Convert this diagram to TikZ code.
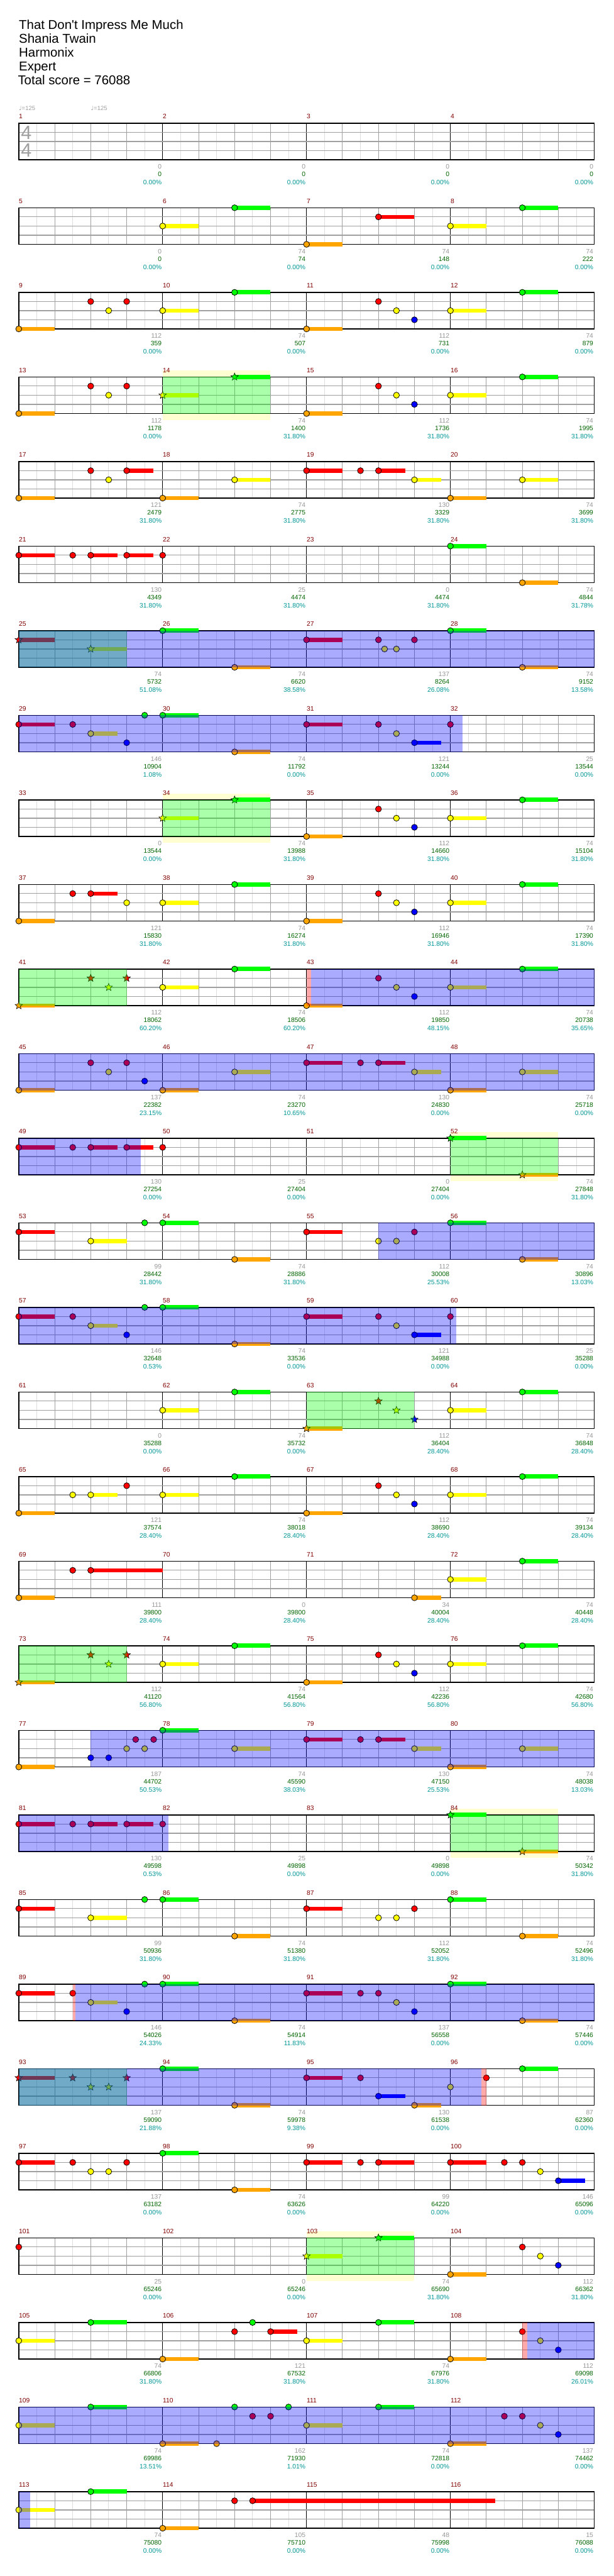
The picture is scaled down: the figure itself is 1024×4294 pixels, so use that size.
\documentclass[tikz,border=0pt]{standalone}
\usepackage{fontspec}
\setmainfont{Liberation Sans}
\newfontfamily\symfont{DejaVu Sans}
\usetikzlibrary{shapes.geometric}

\definecolor{mred}{RGB}{128,0,0}
\definecolor{sgray}{RGB}{150,150,150}
\definecolor{sgreen}{RGB}{0,100,0}
\definecolor{steal}{RGB}{0,150,150}
\definecolor{ngreen}{RGB}{0,255,0}
\definecolor{nred}{RGB}{255,0,0}
\definecolor{nyellow}{RGB}{255,255,0}
\definecolor{nblue}{RGB}{0,0,255}
\definecolor{norange}{RGB}{255,165,0}
\definecolor{gridmid}{RGB}{160,160,160}
\definecolor{gridlight}{RGB}{222,222,222}
\definecolor{ybg}{RGB}{255,255,210}

% measure, beat -> \chx, \rowtop
\newcommand{\chpos}[2]{%
  \pgfmathtruncatemacro\chrow{(#1-1)/4}%
  \pgfmathtruncatemacro\chcol{#1-1-4*\chrow}%
  \pgfmathsetmacro\chx{31.3+240*\chcol+60*#2}%
  \pgfmathsetmacro\rowtop{205.3+141*\chrow}}
\newcommand{\chcolor}[1]{\ifcase#1\relax\def\nc{ngreen}\or\def\nc{nred}\or\def\nc{nyellow}\or\def\nc{nblue}\or\def\nc{norange}\fi}
% measure, beat, lane, sustain
\newcommand{\chnote}[4]{%
  \chpos{#1}{#2}\chcolor{#3}%
  \pgfmathsetmacro\laney{\rowtop+15.25*#3}%
  \ifdim#4pt>0pt \fill[\nc] (\chx,\laney-3.5) rectangle ++({60*#4},7);\fi
  \draw[notehead, fill=\nc] (\chx,\laney) circle[radius=2.5pt];}
\newcommand{\chstar}[4]{%
  \chpos{#1}{#2}\chcolor{#3}%
  \pgfmathsetmacro\laney{\rowtop+15.25*#3}%
  \ifdim#4pt>0pt \fill[\nc] (\chx,\laney-3.5) rectangle ++({60*#4},7);\fi
  \node[starnote, fill=\nc] at (\chx,\laney) {};}
% measure, beat, length
\newcommand{\sprun}[3]{\chpos{#1}{#2}\fill[spfill] (\chx,\rowtop) rectangle ++({60*#3},61);}
\newcommand{\odrun}[3]{\chpos{#1}{#2}\fill[odfill] (\chx,\rowtop) rectangle ++({60*#3},61);}
\newcommand{\pkrun}[3]{\chpos{#1}{#2}\fill[pkfill] (\chx,\rowtop) rectangle ++({60*#3},61);}
\newcommand{\ybrun}[3]{\chpos{#1}{#2}\fill[ybg] (\chx,\rowtop-10.5) rectangle ++({60*#3},82);}

\begin{document}
\begin{tikzpicture}[
    x=0.5pt, y=-0.5pt,
    head/.style={font=\fontsize{10.7}{12}\selectfont, anchor=base west, inner sep=0},
    tempo/.style={font=\fontsize{5}{6}\selectfont, text=gridmid, anchor=base west, inner sep=0},
    timesig/.style={font=\fontsize{16}{18}\selectfont, text=gridmid, inner sep=0},
    mnum/.style={font=\fontsize{5.4}{6}\selectfont, text=mred, anchor=west, inner sep=0},
    ptgray/.style={font=\fontsize{5.4}{6}\selectfont, text=sgray, anchor=east, inner sep=0},
    ptgreen/.style={font=\fontsize{5.4}{6}\selectfont, text=sgreen, anchor=east, inner sep=0},
    ptteal/.style={font=\fontsize{5.4}{6}\selectfont, text=steal, anchor=east, inner sep=0},
    eighth/.style={draw=gridlight, line width=0.5pt},
    quarter/.style={draw=gridmid, line width=0.5pt},
    barline/.style={draw=black, line width=0.5pt},
    laneline/.style={draw=gridmid, line width=0.6pt},
    border/.style={draw=black, line width=0.7pt},
    notehead/.style={draw=black, line width=0.4pt},
    starnote/.style={star, star points=5, star point ratio=2.3, draw=black, line width=0.3pt,
                     inner sep=0, minimum size=6.5pt},
    spfill/.style={fill=green, fill opacity=0.333},
    odfill/.style={fill=blue, fill opacity=0.333},
    pkfill/.style={fill=red, fill opacity=0.333}
]
\fill[white] (0,0) rectangle (1024,4294);
\useasboundingbox (0,0) rectangle (1024,4294);

% header
\node[head] (song)   at (31.3,49)  {That Don\textquotesingle t Impress Me Much};
\node[head] (artist) at (31.3,72)  {Shania Twain};
\node[head] (author) at (31.3,95)  {Harmonix};
\node[head] (level)  at (31.3,118) {Expert};
\node[head] (total)  at (29.5,141.3) {Total score = 76088};
\node[tempo] (tempoA) at (31.3,184.5)  {{\symfont ♩}=125};
\node[tempo] (tempoB) at (151.3,184.5) {{\symfont ♩}=125};

% star phrase backgrounds
\ybrun{14}{0}{3} \ybrun{34}{0}{3} \ybrun{52}{0}{3} \ybrun{84}{0}{3} \ybrun{103}{0}{3}

% staffs
\foreach \r in {0,...,28}{
  \pgfmathsetmacro\rowtop{205.3+141*\r}
  \fill[white] (31.3,\rowtop) rectangle (991.3,\rowtop+61);
  \foreach \nb in {0.5,1.5,...,15.5} \draw[eighth] (31.3+60*\nb,\rowtop) -- ++(0,61);
  \foreach \nb in {1,2,3,5,6,7,9,10,11,13,14,15} \draw[quarter] (31.3+60*\nb,\rowtop) -- ++(0,61);
  \foreach \nb in {4,8,12} \draw[barline] (31.3+60*\nb,\rowtop) -- ++(0,61);
  \foreach \k in {1,2,3} \draw[laneline] (31.3,\rowtop+15.25*\k) -- (991.3,\rowtop+15.25*\k);
  \draw[border] (31.3,\rowtop) rectangle (991.3,\rowtop+61);
}
\node[timesig] (sigtop) at (43.8,220.7) {4};
\node[timesig] (sigbot) at (43.8,250.7) {4};

% notes: measure/beat/lane/sustain
\foreach \nm/\nb/\nl/\ns in {
  6/0/2/1, 6/2/0/1, 7/0/4/1, 7/2/1/1, 8/0/2/1, 8/2/0/1,
  9/0/4/1, 9/2/1/0, 9/2.5/2/0, 9/3/1/0, 10/0/2/1, 10/2/0/1,
  11/0/4/1, 11/2/1/0, 11/2.5/2/0, 11/3/3/0, 12/0/2/1, 12/2/0/1,
  13/0/4/1, 13/2/1/0, 13/2.5/2/0, 13/3/1/0,
  15/0/4/1, 15/2/1/0, 15/2.5/2/0, 15/3/3/0, 16/0/2/1, 16/2/0/1,
  17/0/4/1, 17/2/1/0, 17/2.5/2/0, 17/3/1/0.75, 18/0/4/1, 18/2/2/1,
  19/0/1/1, 19/1.5/1/0, 19/2/1/0.75, 19/3/2/0.75, 20/0/4/1, 20/2/2/1,
  21/0/1/1, 21/1.5/1/0, 21/2/1/0.75, 21/3/1/0.75, 22/0/1/0,
  24/0/0/1, 24/2/4/1,
  26/0/0/1, 26/2/4/1,
  27/0/1/1, 27/2/1/0, 27/2.17/2/0, 27/2.5/2/0, 27/3/1/0, 28/0/0/1, 28/2/4/1,
  29/0/1/1, 29/1.5/1/0, 29/2/2/0.75, 29/3/3/0, 29/3.5/0/0, 30/0/0/1, 30/2/4/1,
  31/0/1/1, 31/2/1/0, 31/2.5/2/0, 31/3/3/0.75, 32/0/1/0,
  35/0/4/1, 35/2/1/0, 35/2.5/2/0, 35/3/3/0, 36/0/2/1, 36/2/0/1,
  37/0/4/1, 37/1.5/1/0, 37/2/1/0.75, 37/3/2/0, 38/0/2/1, 38/2/0/1,
  39/0/4/1, 39/2/1/0, 39/2.5/2/0, 39/3/3/0, 40/0/2/1, 40/2/0/1,
  42/0/2/1, 42/2/0/1,
  43/0/4/1, 43/2/1/0, 43/2.5/2/0, 43/3/3/0, 44/0/2/1, 44/2/0/1,
  45/0/4/1, 45/2/1/0, 45/2.5/2/0, 45/3/1/0, 45/3.5/3/0, 46/0/4/1, 46/2/2/1,
  47/0/1/1, 47/1.5/1/0, 47/2/1/0.75, 47/3/2/0.75, 48/0/4/1, 48/2/2/1,
  49/0/1/1, 49/1.5/1/0, 49/2/1/0.75, 49/3/1/0.75, 50/0/1/0,
  53/0/1/1, 53/2/2/1, 53/3.5/0/0, 54/0/0/1, 54/2/4/1,
  55/0/1/1, 55/2/2/0, 55/2.5/2/0, 55/3/1/0, 56/0/0/1, 56/2/4/1,
  57/0/1/1, 57/1.5/1/0, 57/2/2/0.75, 57/3/3/0, 57/3.5/0/0, 58/0/0/1, 58/2/4/1,
  59/0/1/1, 59/2/1/0, 59/2.5/2/0, 59/3/3/0.75, 60/0/1/0,
  62/0/2/1, 62/2/0/1, 64/0/2/1, 64/2/0/1,
  65/0/4/1, 65/1.5/2/0, 65/2/2/0.75, 65/3/1/0, 66/0/2/1, 66/2/0/1,
  67/0/4/1, 67/2/1/0, 67/2.5/2/0, 67/3/3/0, 68/0/2/1, 68/2/0/1,
  69/0/4/1, 69/1.5/1/0, 69/2/1/2, 71/3/4/0.75, 72/0/2/1, 72/2/0/1,
  74/0/2/1, 74/2/0/1,
  75/0/4/1, 75/2/1/0, 75/2.5/2/0, 75/3/3/0, 76/0/2/1, 76/2/0/1,
  77/0/4/1, 77/2/3/0, 77/2.5/3/0, 77/3/2/0, 77/3.25/1/0, 77/3.5/2/0, 77/3.75/1/0,
  78/0/0/1, 78/2/2/1,
  79/0/1/1, 79/1.5/1/0, 79/2/1/0.75, 79/3/2/0.75, 80/0/4/1, 80/2/2/1,
  81/0/1/1, 81/1.5/1/0, 81/2/1/0.75, 81/3/1/0.75, 82/0/1/0,
  85/0/1/1, 85/2/2/1, 85/3.5/0/0, 86/0/0/1, 86/2/4/1,
  87/0/1/1, 87/2/2/0, 87/2.5/2/0, 87/3/1/0, 88/0/0/1, 88/2/4/1,
  89/0/1/1, 89/1.5/1/0, 89/2/2/0.75, 89/3/3/0, 89/3.5/0/0, 90/0/0/1, 90/2/4/1,
  91/0/1/1, 91/1.5/1/0, 91/2/1/0, 91/2.5/2/0, 91/3/3/0, 92/0/0/1, 92/2/4/1,
  94/0/0/1, 94/2/4/1,
  95/0/1/1, 95/1.5/1/0, 95/2/3/0.75, 95/3/4/0.75, 96/0/2/0, 96/1/1/0, 96/2/0/1,
  97/0/1/1, 97/1.5/1/0, 97/2/2/0, 97/2.5/2/0, 97/3/1/0, 98/0/0/1, 98/2/4/1,
  99/0/1/1, 99/1.5/1/0, 99/2/1/1,
  100/0/1/1, 100/1.5/1/0, 100/2/1/0, 100/2.5/2/0, 100/3/3/0.75,
  101/0/1/0,
  104/0/4/1, 104/2/1/0, 104/2.5/2/0, 104/3/3/0,
  105/0/2/1, 105/2/0/1,
  106/0/4/1, 106/2/1/0, 106/2.5/0/0, 106/3/1/0.75,
  107/0/2/1, 107/2/0/1,
  108/0/4/1, 108/2/1/0, 108/2.5/2/0, 108/3/3/0,
  109/0/2/1, 109/2/0/1,
  110/0/4/1, 110/1.5/4/0, 110/2/0/0, 110/2.5/1/0, 110/3/1/0, 110/3.5/0/0,
  111/0/2/1, 111/2/0/1,
  112/0/4/1, 112/1.5/1/0, 112/2/1/0, 112/2.5/2/0, 112/3/3/0,
  113/0/2/1, 113/2/0/1,
  114/0/4/1, 114/2/1/0, 114/2.5/1/6.75}
  {\chnote{\nm}{\nb}{\nl}{\ns}}

% star notes
\foreach \nm/\nb/\nl/\ns in {
  14/0/2/1, 14/2/0/1, 25/0/1/1, 25/2/2/1, 34/0/2/1, 34/2/0/1,
  41/0/4/1, 41/2/1/0, 41/2.5/2/0, 41/3/1/0, 52/0/0/1, 52/2/4/1,
  63/0/4/1, 63/2/1/0, 63/2.5/2/0, 63/3/3/0,
  73/0/4/1, 73/2/1/0, 73/2.5/2/0, 73/3/1/0, 84/0/0/1, 84/2/4/1,
  93/0/1/1, 93/1.5/1/0, 93/2/2/0, 93/2.5/2/0, 93/3/1/0, 103/0/2/1, 103/2/0/1}
  {\chstar{\nm}{\nb}{\nl}{\ns}}

% star power and overdrive
\foreach \nm in {14,25,34,41,52,63,73,84,93,103} {\sprun{\nm}{0}{3}}
\odrun{25}{0}{16}   \odrun{29}{0}{12.33} \odrun{43}{0.13}{7.87}
\odrun{45}{0}{16}   \odrun{49}{0}{3.4}   \odrun{55}{2}{6}
\odrun{57}{0}{12.16} \odrun{77}{2}{14}   \odrun{81}{0}{4.16}
\odrun{89}{1.58}{14.42} \odrun{93}{0}{12.87} \odrun{108}{2.13}{1.87}
\odrun{109}{0}{16}  \odrun{113}{0}{0.31}
\pkrun{43}{0}{0.13} \pkrun{89}{1.5}{0.08} \pkrun{96}{0.87}{0.13} \pkrun{108}{2}{0.13}

% measure numbers
\foreach \nm in {1,...,116}{
  \chpos{\nm}{0}
  \node[mnum] (m\nm) at (\chx,\rowtop-11) {\nm};
}

% scores
\foreach \pa/\pb/\pc [count=\nm] in {
  0/0/0.00, 0/0/0.00, 0/0/0.00, 0/0/0.00,
  0/0/0.00, 74/74/0.00, 74/148/0.00, 74/222/0.00,
  112/359/0.00, 74/507/0.00, 112/731/0.00, 74/879/0.00,
  112/1178/0.00, 74/1400/31.80, 112/1736/31.80, 74/1995/31.80,
  121/2479/31.80, 74/2775/31.80, 130/3329/31.80, 74/3699/31.80,
  130/4349/31.80, 25/4474/31.80, 0/4474/31.80, 74/4844/31.78,
  74/5732/51.08, 74/6620/38.58, 137/8264/26.08, 74/9152/13.58,
  146/10904/1.08, 74/11792/0.00, 121/13244/0.00, 25/13544/0.00,
  0/13544/0.00, 74/13988/31.80, 112/14660/31.80, 74/15104/31.80,
  121/15830/31.80, 74/16274/31.80, 112/16946/31.80, 74/17390/31.80,
  112/18062/60.20, 74/18506/60.20, 112/19850/48.15, 74/20738/35.65,
  137/22382/23.15, 74/23270/10.65, 130/24830/0.00, 74/25718/0.00,
  130/27254/0.00, 25/27404/0.00, 0/27404/0.00, 74/27848/31.80,
  99/28442/31.80, 74/28886/31.80, 112/30008/25.53, 74/30896/13.03,
  146/32648/0.53, 74/33536/0.00, 121/34988/0.00, 25/35288/0.00,
  0/35288/0.00, 74/35732/0.00, 112/36404/28.40, 74/36848/28.40,
  121/37574/28.40, 74/38018/28.40, 112/38690/28.40, 74/39134/28.40,
  111/39800/28.40, 0/39800/28.40, 34/40004/28.40, 74/40448/28.40,
  112/41120/56.80, 74/41564/56.80, 112/42236/56.80, 74/42680/56.80,
  187/44702/50.53, 74/45590/38.03, 130/47150/25.53, 74/48038/13.03,
  130/49598/0.53, 25/49898/0.00, 0/49898/0.00, 74/50342/31.80,
  99/50936/31.80, 74/51380/31.80, 112/52052/31.80, 74/52496/31.80,
  146/54026/24.33, 74/54914/11.83, 137/56558/0.00, 74/57446/0.00,
  137/59090/21.88, 74/59978/9.38, 130/61538/0.00, 87/62360/0.00,
  137/63182/0.00, 74/63626/0.00, 99/64220/0.00, 146/65096/0.00,
  25/65246/0.00, 0/65246/0.00, 74/65690/31.80, 112/66362/31.80,
  74/66806/31.80, 121/67532/31.80, 74/67976/31.80, 112/69098/26.01,
  74/69986/13.51, 162/71930/1.01, 74/72818/0.00, 137/74462/0.00,
  74/75080/0.00, 105/75710/0.00, 48/75998/0.00, 15/76088/0.00}{
  \chpos{\nm}{4}
  \node[ptgray]  (pa\nm) at (\chx-1.3,\rowtop+72.7) {\pa};
  \node[ptgreen] (pb\nm) at (\chx-1.3,\rowtop+85.4) {\pb};
  \node[ptteal]  (pc\nm) at (\chx-1.3,\rowtop+98.7) {\pc\%};
}
\end{tikzpicture}
\end{document}
